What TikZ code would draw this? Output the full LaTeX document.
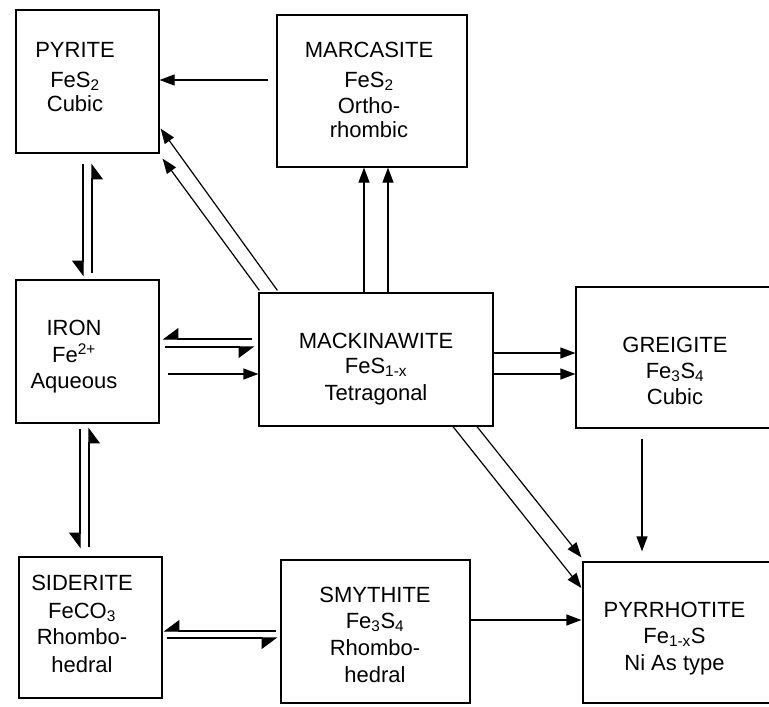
\documentclass[tikz,border=0pt]{standalone}
\usepackage{fontspec}
\setmainfont{Liberation Sans}
\usetikzlibrary{arrows.meta,calc}
\tikzset{
  box/.style={draw, line width=1.2pt, inner sep=0pt},
  lbl/.style={anchor=base, inner sep=0pt, font=\fontsize{22}{26}\selectfont},
  arr/.style={line width=1.2pt, -{Triangle[length=15pt,width=11pt]}},
  harp/.style={line width=1.2pt, -{Triangle[right,length=15pt,width=22pt]}},
}
\begin{document}
\begin{tikzpicture}[x=1pt,y=-1pt]
\useasboundingbox (0,0) rectangle (769,707);
\clip (0,0) rectangle (769,707);
\fill[white] (0,0) rectangle (769,707);

% boxes
\node[box, minimum width=143pt, minimum height=143pt] (pyrite) at (87.5,81.5) {};
\node[box, minimum width=190pt, minimum height=152pt] (marc) at (372,91) {};
\node[box, minimum width=143pt, minimum height=143pt] (iron) at (87.5,351.5) {};
\node[box, minimum width=234pt, minimum height=133pt] (mack) at (376,359.5) {};
\node[box, minimum width=214pt, minimum height=141pt] (greig) at (683,357.5) {};
\node[box, minimum width=143pt, minimum height=141pt] (sid) at (90.5,627.5) {};
\node[box, minimum width=189pt, minimum height=143pt] (smy) at (375.5,631.5) {};
\node[box, minimum width=207pt, minimum height=141pt] (pyrr) at (686.5,632.5) {};

% texts
\node[lbl] (pyrT1) at (75,57) {PYRITE};
\node[lbl] (pyrT2) at (75,87) {FeS\textsubscript{2}};
\node[lbl] (pyrT3) at (75,111) {Cubic};

\node[lbl] (marT1) at (369,57) {MARCASITE};
\node[lbl] (marT2) at (369,87) {FeS\textsubscript{2}};
\node[lbl] (marT3) at (369,113) {Ortho-};
\node[lbl] (marT4) at (369,137) {rhombic};

\node[lbl] (irT1) at (74,335) {IRON};
\node[lbl] (irT2) at (74,362) {Fe\textsuperscript{2+}};
\node[lbl] (irT3) at (74,388) {Aqueous};

\node[lbl] (maT1) at (376,348) {MACKINAWITE};
\node[lbl] (maT2) at (376,373) {FeS\textsubscript{1-x}};
\node[lbl] (maT3) at (376,400) {Tetragonal};

\node[lbl] (grT1) at (675,352) {GREIGITE};
\node[lbl] (grT2) at (675,378) {Fe\textsubscript{3}S\textsubscript{4}};
\node[lbl] (grT3) at (675,404) {Cubic};

\node[lbl] (siT1) at (82,590) {SIDERITE};
\node[lbl] (siT2) at (82,618) {FeCO\textsubscript{3}};
\node[lbl] (siT3) at (82,644) {Rhombo-};
\node[lbl] (siT4) at (82,672) {hedral};

\node[lbl] (smT1) at (375,602) {SMYTHITE};
\node[lbl] (smT2) at (375,628) {Fe\textsubscript{3}S\textsubscript{4}};
\node[lbl] (smT3) at (375,655) {Rhombo-};
\node[lbl] (smT4) at (375,682) {hedral};

\node[lbl] (poT1) at (674.5,617) {PYRRHOTITE};
\node[lbl] (poT2) at (674.5,643) {Fe\textsubscript{1-x}S};
\node[lbl] (poT3) at (674.5,670) {Ni As type};

% connectors
\draw[arr] ($(marc.west |- 0,80)+(-8,0)$) -- (pyrite.east |- 0,80);

\draw[arr] ($(mack.north west)+(19,-2)$) -- ($(pyrite.south east)+(1,-25)$);
\draw[arr] ($(mack.north west)+(1,-2)$) -- ($(pyrite.south east)+(3,5)$);

\draw[harp] ($(pyrite.south)+(-4.5,10)$) -- ($(iron.north)+(-4.5,-3)$);
\draw[harp] ($(iron.north)+(4.5,-6)$) -- ($(pyrite.south)+(4.5,10)$);

\draw[harp] ($(mack.west |- 0,339)+(-6,0)$) -- ($(iron.east |- 0,339)+(3,0)$);
\draw[harp] ($(iron.east |- 0,347)+(5,0)$) -- ($(mack.west |- 0,347)+(-4,0)$);
\draw[arr] ($(iron.east |- 0,374)+(8,0)$) -- (mack.west |- 0,374);

\draw[arr] (mack.east |- 0,353) -- (greig.west |- 0,353);
\draw[arr] (mack.east |- 0,374) -- (greig.west |- 0,374);

\draw[arr] (mack.north -| 364,0) -- (marc.south -| 364,0);
\draw[arr] (mack.north -| 388,0) -- (marc.south -| 388,0);

\draw[arr] (mack.south -| 453,0) -- ($(pyrr.west |- 0,588)+(-1,0)$);
\draw[arr] (mack.south -| 477,0) -- ($(pyrr.north west)+(-1,-4)$);

\draw[arr] ($(greig.south -| 642,0)+(0,10)$) -- ($(pyrr.north -| 642,0)+(0,-10)$);

\draw[arr] (smy.east |- 0,620) -- ($(pyrr.west |- 0,620)+(-1,0)$);

\draw[harp] ($(iron.south -| 80,0)+(0,5)$) -- ($(sid.north -| 80,0)+(0,-8)$);
\draw[harp] ($(sid.north -| 89,0)+(0,-9)$) -- ($(iron.south -| 89,0)+(0,4)$);

\draw[harp] ($(smy.west |- 0,631)+(-4,0)$) -- ($(sid.east |- 0,631)+(1,0)$);
\draw[harp] ($(sid.east |- 0,638)+(4,0)$) -- ($(smy.west |- 0,638)+(-3,0)$);
\end{tikzpicture}
\end{document}
